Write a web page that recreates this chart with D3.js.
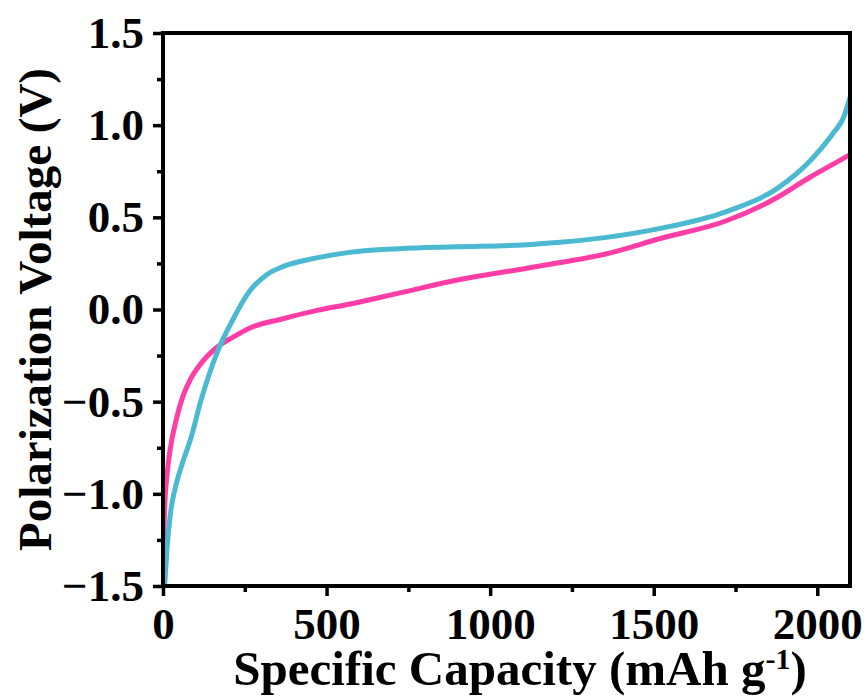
<!DOCTYPE html>
<html>
<head>
<meta charset="utf-8">
<script src="https://cdn.jsdelivr.net/npm/d3@7"></script>
<style>
  body { margin: 0; background: #fff; }
  text { font-family: "Times New Roman", "Liberation Serif", serif; font-weight: bold; }
</style>
</head>
<body>
<div id="content"></div>
<script>
// data
const cyanCapacity = [5, 12, 24, 40, 60, 85, 115, 165, 215, 265, 318, 370, 470, 570, 720, 900, 1100, 1214, 1350, 1520, 1720, 1880, 1980, 2050, 2080, 2100];
const cyanVoltage = [-1.5, -1.3, -1.09, -0.95, -0.83, -0.70, -0.50, -0.235, -0.05, 0.10, 0.19, 0.235, 0.28, 0.31, 0.33, 0.34, 0.35, 0.365, 0.39, 0.44, 0.53, 0.66, 0.81, 0.96, 1.04, 1.15];
const pinkCapacity = [1, 3, 6, 12, 21, 43, 61, 85, 113, 165, 214, 266, 367, 471, 572, 724, 900, 1100, 1214, 1350, 1520, 1720, 1880, 1980, 2050, 2100];
const pinkVoltage = [-1.4, -1.2, -1.04, -0.9, -0.77, -0.58, -0.47, -0.375, -0.30, -0.205, -0.15, -0.10, -0.05, -0.005, 0.03, 0.09, 0.16, 0.22, 0.255, 0.30, 0.385, 0.48, 0.61, 0.72, 0.79, 0.84];
const xTicks = [0, 500, 1000, 1500, 2000];
const xMinor = [250, 750, 1250, 1750];
const yTicks = [-1.5, -1.0, -0.5, 0.0, 0.5, 1.0, 1.5];
const yMinor = [-1.25, -0.75, -0.25, 0.25, 0.75, 1.25];

const width = 867, height = 700;
const margin = { top: 33, right: 17, bottom: 114, left: 163 };
const innerW = width - margin.left - margin.right;
const innerH = height - margin.top - margin.bottom;

const svg = d3.select('#content').append('svg')
  .attr('width', width).attr('height', height);

const g = svg.append('g').attr('transform', `translate(${margin.left},${margin.top})`);

const x = d3.scaleLinear().domain([0, 2100]).range([0, innerW]);
const y = d3.scaleLinear().domain([-1.5, 1.5]).range([innerH, 0]);

g.append('clipPath').attr('id', 'clip')
  .append('rect').attr('width', innerW).attr('height', innerH);

// curves
const line = d3.line().x(d => x(d[0])).y(d => y(d[1])).curve(d3.curveMonotoneX);
const series = [
  { cap: pinkCapacity, v: pinkVoltage, color: '#FF3DA6' },
  { cap: cyanCapacity, v: cyanVoltage, color: '#4AB9D1' }
];
series.forEach(s => {
  g.append('path')
    .datum(s.cap.map((c, i) => [c, s.v[i]]))
    .attr('clip-path', 'url(#clip)')
    .attr('fill', 'none')
    .attr('stroke', s.color)
    .attr('stroke-width', 5)
    .attr('d', line);
});

// axes
const xAxis = g.append('g').attr('transform', `translate(0,${innerH})`)
  .call(d3.axisBottom(x).tickValues(xTicks).tickFormat(d3.format('d')).tickSize(10).tickPadding(11));
const xAxisMinor = g.append('g').attr('transform', `translate(0,${innerH})`)
  .call(d3.axisBottom(x).tickValues(xMinor).tickFormat('').tickSize(6));
const yAxis = g.append('g')
  .call(d3.axisLeft(y).tickValues(yTicks).tickFormat(d3.format('.1f')).tickSize(10).tickPadding(9));
const yAxisMinor = g.append('g')
  .call(d3.axisLeft(y).tickValues(yMinor).tickFormat('').tickSize(6));

[xAxis, xAxisMinor, yAxis, yAxisMinor].forEach(a => {
  a.select('.domain').remove();
  a.selectAll('line').attr('stroke', '#000').attr('stroke-width', 3.5);
  a.selectAll('text').attr('fill', '#000').style('font-size', '45px');
});

// frame
g.append('rect')
  .attr('width', innerW).attr('height', innerH)
  .attr('fill', 'none').attr('stroke', '#000').attr('stroke-width', 4);

// axis titles
const xTitle = svg.append('text')
  .attr('x', 520).attr('y', 685)
  .attr('text-anchor', 'middle')
  .style('font-size', '49px');
xTitle.append('tspan').text('Specific Capacity (mAh g');
xTitle.append('tspan').attr('dy', -16).style('font-size', '30px').text('-1');
xTitle.append('tspan').attr('dy', 16).text(')');

svg.append('text')
  .attr('transform', `translate(51,${margin.top + innerH / 2}) rotate(-90)`)
  .attr('text-anchor', 'middle')
  .style('font-size', '47px')
  .text('Polarization Voltage (V)');
</script>
</body>
</html>
